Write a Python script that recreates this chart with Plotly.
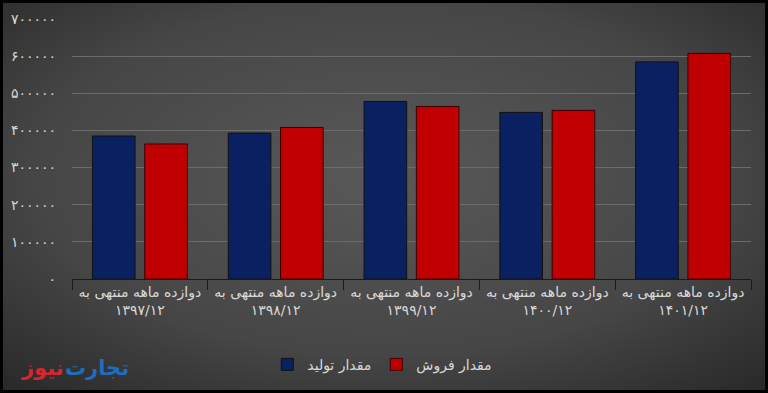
import base64
import plotly.graph_objects as go

# ---- data ----
categories = [
    "دوازده ماهه منتهی به<br>۱۳۹۷/۱۲",
    "دوازده ماهه منتهی به<br>۱۳۹۸/۱۲",
    "دوازده ماهه منتهی به<br>۱۳۹۹/۱۲",
    "دوازده ماهه منتهی به<br>۱۴۰۰/۱۲",
    "دوازده ماهه منتهی به<br>۱۴۰۱/۱۲",
]
production = [385000, 393000, 478000, 448500, 584500]
sales = [363500, 408000, 464500, 454000, 607500]
series_names = ["مقدار تولید", "مقدار فروش"]
y_tickvals = [0, 100000, 200000, 300000, 400000, 500000, 600000, 700000]
y_ticktext = ["۰", "۱۰۰۰۰۰", "۲۰۰۰۰۰", "۳۰۰۰۰۰", "۴۰۰۰۰۰", "۵۰۰۰۰۰", "۶۰۰۰۰۰", "۷۰۰۰۰۰"]
logo_parts = ["تجارت", "نیوز"]

W, H = 768, 393
L, R, T, B = 72, 17, 19, 114
pw, ph = W - L - R, H - T - B

svg = f'''<svg xmlns="http://www.w3.org/2000/svg" width="{W}" height="{H}" viewBox="0 0 {W} {H}">
<defs><radialGradient id="g" cx="0.5" cy="0.45" r="0.75">
<stop offset="0" stop-color="#595959"/><stop offset="0.6" stop-color="#464646"/><stop offset="1" stop-color="#272727"/>
</radialGradient></defs>
<rect x="0" y="0" width="{W}" height="{H}" fill="url(#g)"/>
<rect x="1.5" y="1.5" width="{W-3}" height="{H-3}" fill="none" stroke="#000" stroke-width="3"/>
</svg>'''
bg = "data:image/svg+xml;base64," + base64.b64encode(svg.encode()).decode()

font = "DejaVu Sans"
fig = go.Figure()
fig.add_trace(go.Bar(x=categories, y=production, name=series_names[0],
                     marker=dict(color="#0b2061", line=dict(color="#111", width=1))))
fig.add_trace(go.Bar(x=categories, y=sales, name=series_names[1],
                     marker=dict(color="#c00000", line=dict(color="#3a0000", width=1))))

logo_y = -(368 - 279.3) / ph
fig.update_layout(
    width=W, height=H,
    margin=dict(l=L, r=R, t=T, b=B),
    paper_bgcolor="#404040", plot_bgcolor="rgba(0,0,0,0)",
    barmode="group", bargap=0.23, bargroupgap=0.185,
    font=dict(family=font, color="#d9d9d9", size=12),
    legend=dict(orientation="h", x=0.457, xanchor="center", y=-0.33, yanchor="middle",
                font=dict(size=14, color="#d9d9d9"), bgcolor="rgba(0,0,0,0)", traceorder="normal",
                itemwidth=30),
    images=[dict(source=bg, xref="paper", yref="paper", x=-L / pw, y=1 + T / ph,
                 sizex=W / pw, sizey=H / ph, xanchor="left", yanchor="top",
                 sizing="stretch", layer="below")],
    xaxis=dict(showgrid=False, showline=True, linecolor="#1a1a1a", linewidth=1,
               ticks="outside", tickson="boundaries", ticklen=10, tickcolor="#1a1a1a",
               tickfont=dict(size=14, color="#d9d9d9")),
    yaxis=dict(range=[0, 700000], tickvals=y_tickvals, ticktext=y_ticktext,
               showgrid=True, gridcolor="#6c6c6c", gridwidth=1, zeroline=False,
               showline=False, ticks="", ticklabelstandoff=15,
               tickfont=dict(size=14, color="#d9d9d9")),
    annotations=[
        dict(text="<b>" + logo_parts[0] + "</b>", xref="paper", yref="paper", x=(97 - L) / pw, y=logo_y,
             xanchor="center", yanchor="middle", showarrow=False,
             font=dict(size=21, color="#1f6dbf", family=font)),
        dict(text="<b>" + logo_parts[1] + "</b>", xref="paper", yref="paper", x=(42 - L) / pw, y=logo_y,
             xanchor="center", yanchor="middle", showarrow=False,
             font=dict(size=21, color="#d8262e", family=font)),
    ],
)

fig.write_html("out.html", config={"displayModeBar": False},
               post_script="document.body.style.margin='0';")
